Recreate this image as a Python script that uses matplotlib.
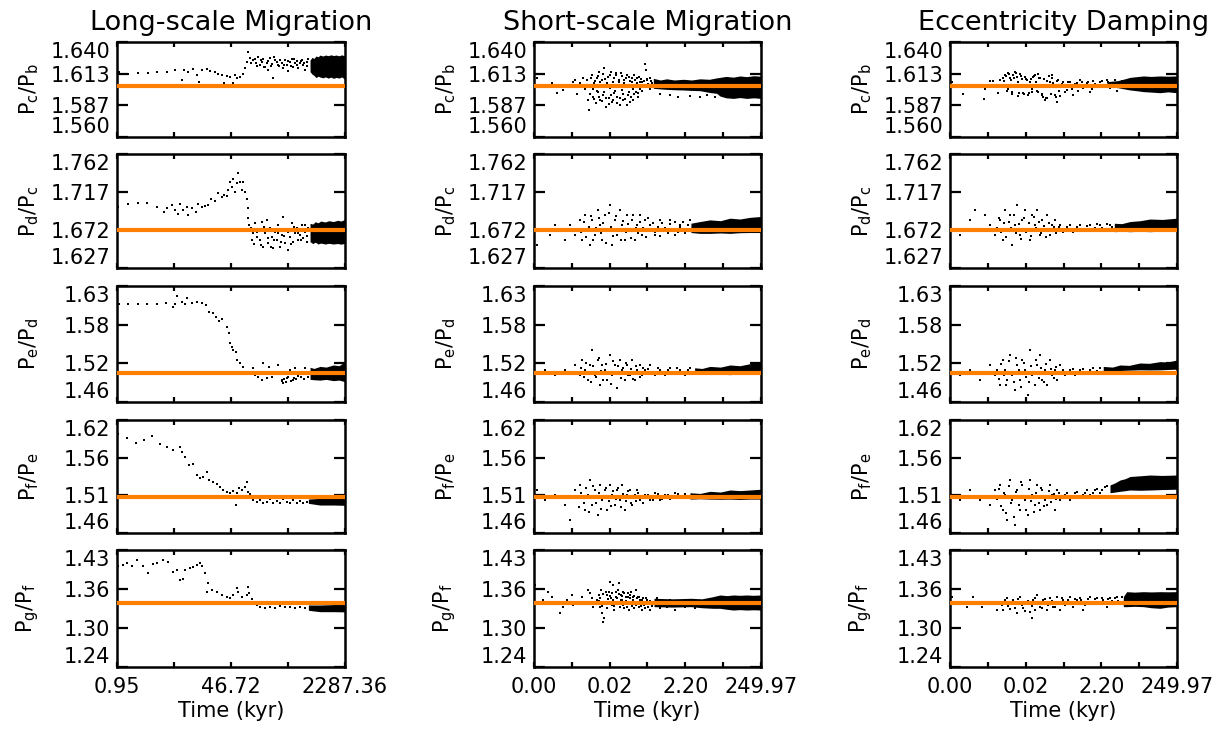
import matplotlib.pyplot as plt
import numpy as np

plt.rcParams['font.family'] = ['DejaVu Sans']
plt.rcParams['mathtext.fontset'] = 'dejavusans'

# ---------------------------------------------------------------- labels
titles = ['Long-scale Migration', 'Short-scale Migration', 'Eccentricity Damping']
ratio_names = [r'P$_{\rm c}$/P$_{\rm b}$', r'P$_{\rm d}$/P$_{\rm c}$', r'P$_{\rm e}$/P$_{\rm d}$',
               r'P$_{\rm f}$/P$_{\rm e}$', r'P$_{\rm g}$/P$_{\rm f}$']
observed = [1.603, 1.672, 1.506, 1.509, 1.342]   # orange reference lines

y_limits = [(1.560, 1.640), (1.627, 1.762), (1.463, 1.6325), (1.458, 1.618), (1.242, 1.4256)]
y_ticklabels = [['1.560', '1.587', '1.613', '1.640'],
                ['1.627', '1.672', '1.717', '1.762'],
                ['1.46', '1.52', '1.58', '1.63'],
                ['1.46', '1.51', '1.56', '1.62'],
                ['1.24', '1.30', '1.36', '1.43']]

long_time_limits = (0.95, 2287.36)
long_time_ticks = ['0.95', '46.72', '2287.36']
short_time_limits = (10 ** -3.75, 249.97)
short_time_ticks = ['0.00', '0.02', '2.20', '249.97']

# ---------------------------------------------------------------- data
# points: (log10 time [kyr], period ratio); bands: (log10 time, upper, lower)
long_cb = [(0.013, 1.6144), (0.146, 1.6130), (0.295, 1.6136), (0.443, 1.6142), (0.567, 1.6150),
           (0.715, 1.6150), (0.839, 1.6164), (0.937, 1.6080), (0.972, 1.6164), (1.036, 1.6150),
           (1.110, 1.6170), (1.160, 1.6122), (1.195, 1.6066), (1.234, 1.6164), (1.308, 1.6172),
           (1.358, 1.6158), (1.432, 1.6150), (1.481, 1.6130), (1.531, 1.6122), (1.565, 1.6057),
           (1.605, 1.6114), (1.654, 1.6102), (1.704, 1.6052), (1.728, 1.6122), (1.763, 1.6094),
           (1.803, 1.6108), (1.842, 1.6130), (1.877, 1.6178), (1.901, 1.6234), (1.926, 1.6318),
           (1.951, 1.6262), (1.960, 1.6220), (2.000, 1.6248), (2.020, 1.6260), (2.040, 1.6220),
           (2.060, 1.6200), (2.075, 1.6271), (2.099, 1.6206), (2.110, 1.6250), (2.124, 1.6234),
           (2.149, 1.6254), (2.160, 1.6190), (2.174, 1.6192), (2.198, 1.6226), (2.210, 1.6240),
           (2.223, 1.6164), (2.248, 1.6262), (2.260, 1.6200), (2.272, 1.6215), (2.287, 1.6094),
           (2.310, 1.6270), (2.322, 1.6248), (2.347, 1.6234), (2.360, 1.6210), (2.386, 1.6198),
           (2.400, 1.6250), (2.421, 1.6220), (2.445, 1.6178), (2.460, 1.6210), (2.470, 1.6248),
           (2.495, 1.6206), (2.510, 1.6240), (2.520, 1.6158), (2.544, 1.6231), (2.560, 1.6200),
           (2.569, 1.6254), (2.594, 1.6192), (2.610, 1.6260), (2.618, 1.6220), (2.643, 1.6240),
           (2.650, 1.6210), (2.668, 1.6178), (2.693, 1.6226), (2.700, 1.6240), (2.717, 1.6248),
           (2.742, 1.6206), (2.750, 1.6220), (2.767, 1.6164), (2.791, 1.6234), (2.800, 1.6200),
           (2.816, 1.6254)]
long_cb_band = [(2.841, 1.6248, 1.6150), (2.870, 1.6270, 1.6130), (2.900, 1.6262, 1.6118),
                (2.930, 1.6282, 1.6100), (2.960, 1.6275, 1.6112), (2.990, 1.6290, 1.6105),
                (3.030, 1.6282, 1.6098), (3.070, 1.6290, 1.6106), (3.110, 1.6285, 1.6096),
                (3.150, 1.6292, 1.6104), (3.190, 1.6286, 1.6094), (3.230, 1.6290, 1.6102),
                (3.270, 1.6284, 1.6096), (3.310, 1.6292, 1.6106), (3.359, 1.6282, 1.6085)]

long_dc = [(-0.002, 1.6996), (0.146, 1.7024), (0.295, 1.7036), (0.418, 1.7036), (0.567, 1.6996),
           (0.675, 1.6937), (0.715, 1.6976), (0.789, 1.7016), (0.839, 1.6957), (0.888, 1.6909),
           (0.913, 1.7028), (0.962, 1.6957), (1.012, 1.6996), (1.036, 1.6897), (1.086, 1.6976),
           (1.150, 1.6937), (1.185, 1.7028), (1.234, 1.6996), (1.283, 1.7008), (1.333, 1.7016),
           (1.368, 1.7083), (1.432, 1.7063), (1.481, 1.7162), (1.531, 1.7107), (1.565, 1.7134),
           (1.605, 1.7122), (1.630, 1.7193), (1.654, 1.7292), (1.679, 1.7233), (1.704, 1.7320),
           (1.728, 1.7174), (1.753, 1.7280), (1.778, 1.7399), (1.803, 1.7292), (1.827, 1.7193),
           (1.852, 1.7292), (1.877, 1.7174), (1.901, 1.7083), (1.916, 1.6976), (1.926, 1.6858),
           (1.941, 1.6779), (1.961, 1.6740), (1.975, 1.6600), (1.990, 1.6680), (2.010, 1.6560),
           (2.025, 1.6799), (2.050, 1.6641), (2.060, 1.6700), (2.075, 1.6720), (2.099, 1.6601),
           (2.110, 1.6540), (2.124, 1.6818), (2.149, 1.6522), (2.160, 1.6760), (2.174, 1.6680),
           (2.198, 1.6838), (2.210, 1.6620), (2.223, 1.6562), (2.248, 1.6740), (2.260, 1.6520),
           (2.272, 1.6641), (2.297, 1.6503), (2.310, 1.6600), (2.322, 1.6700), (2.347, 1.6601),
           (2.360, 1.6680), (2.371, 1.6779), (2.396, 1.6522), (2.410, 1.6580), (2.421, 1.6661),
           (2.445, 1.6878), (2.460, 1.6650), (2.470, 1.6562), (2.495, 1.6720), (2.510, 1.6700),
           (2.520, 1.6483), (2.544, 1.6641), (2.560, 1.6560), (2.569, 1.6799), (2.594, 1.6582),
           (2.610, 1.6760), (2.618, 1.6680), (2.643, 1.6740), (2.660, 1.6680), (2.668, 1.6601),
           (2.693, 1.6661), (2.710, 1.6600), (2.717, 1.6779), (2.742, 1.6621), (2.760, 1.6780),
           (2.767, 1.6700), (2.791, 1.6582), (2.800, 1.6650), (2.816, 1.6740)]
long_dc_band = [(2.841, 1.6799, 1.6582), (2.880, 1.6790, 1.6560), (2.920, 1.6818, 1.6575),
                (2.960, 1.6805, 1.6554), (3.000, 1.6826, 1.6565), (3.064, 1.6815, 1.6554),
                (3.120, 1.6830, 1.6562), (3.187, 1.6820, 1.6554), (3.250, 1.6835, 1.6560),
                (3.300, 1.6826, 1.6552), (3.359, 1.6846, 1.6562)]

long_ed = [(0.013, 1.6062), (0.146, 1.6062), (0.295, 1.6062), (0.418, 1.6062), (0.567, 1.6062),
           (0.700, 1.6081), (0.814, 1.6013), (0.839, 1.6062), (0.873, 1.6179), (0.937, 1.6096),
           (0.987, 1.6062), (1.022, 1.6145), (1.086, 1.6071), (1.160, 1.6096), (1.234, 1.6081),
           (1.298, 1.6047), (1.348, 1.5950), (1.407, 1.5925), (1.447, 1.5877), (1.496, 1.5818),
           (1.531, 1.5838), (1.615, 1.5731), (1.634, 1.5633), (1.654, 1.5487), (1.679, 1.5438),
           (1.704, 1.5390), (1.743, 1.5365), (1.763, 1.5244), (1.803, 1.5195), (1.852, 1.5136),
           (1.901, 1.5073), (1.951, 1.5039), (2.000, 1.5122), (2.025, 1.5025), (2.075, 1.5000),
           (2.124, 1.4952), (2.149, 1.5205), (2.198, 1.4976), (2.238, 1.5146), (2.272, 1.5000),
           (2.322, 1.5059), (2.371, 1.5171), (2.421, 1.4952), (2.430, 1.4930), (2.445, 1.4903),
           (2.460, 1.4960), (2.470, 1.5039), (2.480, 1.4920), (2.505, 1.4976), (2.520, 1.4990),
           (2.544, 1.5097), (2.560, 1.4940), (2.584, 1.4952), (2.600, 1.4980), (2.618, 1.5122),
           (2.640, 1.4970), (2.668, 1.5010), (2.700, 1.4990), (2.717, 1.5049), (2.750, 1.4960),
           (2.767, 1.5122), (2.790, 1.5060), (2.816, 1.5000)]
long_ed_band = [(2.841, 1.5137, 1.4961), (2.900, 1.5120, 1.4955), (2.989, 1.5150, 1.4950),
                (3.080, 1.5140, 1.4960), (3.187, 1.5171, 1.4942), (3.270, 1.5160, 1.4950),
                (3.359, 1.5219, 1.4927)]

long_fe = [(-0.002, 1.5982), (0.122, 1.5920), (0.260, 1.5850), (0.379, 1.5897), (0.493, 1.5953),
           (0.616, 1.5840), (0.715, 1.5802), (0.814, 1.5755), (0.913, 1.5802), (0.937, 1.5732),
           (0.987, 1.5651), (1.051, 1.5543), (1.101, 1.5557), (1.160, 1.5401), (1.209, 1.5354),
           (1.259, 1.5378), (1.308, 1.5448), (1.348, 1.5330), (1.407, 1.5307), (1.457, 1.5274),
           (1.506, 1.5227), (1.555, 1.5189), (1.605, 1.5165), (1.654, 1.5151), (1.704, 1.5179),
           (1.743, 1.4976), (1.763, 1.5142), (1.793, 1.5212), (1.827, 1.5189), (1.877, 1.5236),
           (1.911, 1.5307), (1.926, 1.5165), (1.951, 1.5132), (2.000, 1.5047), (2.050, 1.5024),
           (2.099, 1.5047), (2.149, 1.5000), (2.198, 1.5024), (2.248, 1.5057), (2.297, 1.5010),
           (2.347, 1.5038), (2.396, 1.5000), (2.445, 1.5057), (2.495, 1.5024), (2.544, 1.5000),
           (2.594, 1.5047), (2.643, 1.5010), (2.693, 1.5038), (2.742, 1.5000), (2.791, 1.5024)]
long_fe_band = [(2.816, 1.5061, 1.5000), (2.989, 1.5071, 1.4976), (3.187, 1.5071, 1.4976),
                (3.359, 1.5080, 1.4972)]

long_gf = [(-0.002, 1.4000), (0.072, 1.4021), (0.132, 1.4047), (0.196, 1.4000), (0.270, 1.4098),
           (0.359, 1.4000), (0.443, 1.3890), (0.517, 1.4036), (0.567, 1.4047), (0.656, 1.4098),
           (0.740, 1.4072), (0.814, 1.3916), (0.863, 1.3942), (0.913, 1.3785), (0.952, 1.3795),
           (0.987, 1.3942), (1.061, 1.3968), (1.110, 1.3994), (1.160, 1.4021), (1.209, 1.4047),
           (1.244, 1.4000), (1.283, 1.3890), (1.308, 1.3602), (1.333, 1.3733), (1.382, 1.3628),
           (1.457, 1.3602), (1.531, 1.3550), (1.605, 1.3524), (1.654, 1.3498), (1.704, 1.3550),
           (1.753, 1.3654), (1.778, 1.3602), (1.827, 1.3524), (1.877, 1.3445), (1.911, 1.3550),
           (1.926, 1.3681), (1.941, 1.3576), (1.976, 1.3482), (2.000, 1.3419), (2.050, 1.3393),
           (2.099, 1.3367), (2.174, 1.3341), (2.248, 1.3367), (2.322, 1.3341), (2.396, 1.3377),
           (2.470, 1.3356), (2.544, 1.3367), (2.618, 1.3341), (2.693, 1.3356), (2.767, 1.3341)]
long_gf_band = [(2.816, 1.3393, 1.3310), (2.989, 1.3393, 1.3288), (3.187, 1.3400, 1.3288),
                (3.359, 1.3410, 1.3285)]

short_cb = [(-3.678, 1.6094), (-3.272, 1.6052), (-3.136, 1.5973), (-2.956, 1.5996), (-2.866, 1.6018),
            (-2.703, 1.6066), (-2.640, 1.6080), (-2.595, 1.5962), (-2.504, 1.6052), (-2.432, 1.6094),
            (-2.369, 1.6001), (-2.306, 1.6080), (-2.279, 1.5911), (-2.252, 1.5827), (-2.216, 1.6018),
            (-2.189, 1.6122), (-2.143, 1.5939), (-2.116, 1.6052), (-2.080, 1.5883), (-2.053, 1.6094),
            (-2.026, 1.5982), (-1.990, 1.6150), (-1.963, 1.5911), (-1.936, 1.6038), (-1.900, 1.6080),
            (-1.872, 1.5954), (-1.845, 1.6178), (-1.809, 1.5855), (-1.782, 1.6052), (-1.755, 1.6108),
            (-1.719, 1.5925), (-1.692, 1.6010), (-1.665, 1.6150), (-1.629, 1.5897), (-1.602, 1.6066),
            (-1.575, 1.5968), (-1.539, 1.6122), (-1.511, 1.5883), (-1.484, 1.6038), (-1.448, 1.6080),
            (-1.421, 1.5925), (-1.394, 1.6136), (-1.358, 1.5996), (-1.331, 1.5911), (-1.304, 1.6052),
            (-1.268, 1.6094), (-1.241, 1.5869), (-1.214, 1.5954), (-1.178, 1.6108), (-1.150, 1.5897),
            (-1.123, 1.6024), (-1.087, 1.6066), (-1.060, 1.5911), (-1.033, 1.6122), (-0.997, 1.5982),
            (-0.970, 1.6052), (-0.943, 1.5939), (-0.907, 1.6108), (-0.880, 1.6001), (-0.834, 1.6066),
            (-0.789, 1.6038), (-0.744, 1.6215), (-0.717, 1.6164), (-0.681, 1.6080), (-0.645, 1.6018),
            (-0.609, 1.6094), (-0.564, 1.6052), (-0.338, 1.5962), (-0.067, 1.5954), (0.158, 1.5939),
            (0.474, 1.5945), (0.745, 1.5939), (0.926, 1.5954), (1.151, 1.5934),
            (-2.290, 1.6040), (-2.240, 1.5960), (-2.200, 1.6100), (-2.160, 1.6000), (-2.120, 1.5920),
            (-2.090, 1.6070), (-2.050, 1.5990), (-2.010, 1.6110), (-1.980, 1.5940), (-1.950, 1.6060),
            (-1.920, 1.5900), (-1.880, 1.6130), (-1.850, 1.5980), (-1.820, 1.6090), (-1.790, 1.5930),
            (-1.760, 1.6030), (-1.730, 1.5880), (-1.700, 1.6120), (-1.670, 1.5950), (-1.640, 1.6040),
            (-1.610, 1.5910), (-1.580, 1.6100), (-1.550, 1.5990), (-1.520, 1.6140), (-1.490, 1.5940),
            (-1.460, 1.6060), (-1.430, 1.5870), (-1.400, 1.6020), (-1.370, 1.6110), (-1.340, 1.5960),
            (-1.310, 1.6080), (-1.280, 1.5920), (-1.250, 1.6040), (-1.220, 1.6120), (-1.190, 1.5980),
            (-1.160, 1.6070), (-1.130, 1.5940), (-1.100, 1.6100), (-1.070, 1.6000), (-1.040, 1.5960),
            (-1.010, 1.6080), (-0.980, 1.6030), (-0.950, 1.6100), (-0.920, 1.5970), (-0.890, 1.6060),
            (-0.860, 1.6090), (-0.820, 1.5990), (-0.780, 1.6070), (-0.750, 1.6030), (-0.700, 1.6090),
            (-0.660, 1.6050), (-0.620, 1.6000), (-0.580, 1.6070)]
short_cb_band = [(-0.518, 1.6094, 1.6010), (-0.330, 1.6080, 1.6005), (-0.157, 1.6090, 1.6001),
                 (0.050, 1.6080, 1.5998), (0.294, 1.6086, 1.5996), (0.520, 1.6080, 1.5992),
                 (0.745, 1.6090, 1.5990), (1.000, 1.6086, 1.5975), (1.197, 1.6098, 1.5968),
                 (1.287, 1.6102, 1.5945), (1.450, 1.6110, 1.5930), (1.648, 1.6104, 1.5925),
                 (1.830, 1.6114, 1.5932), (2.009, 1.6108, 1.5925), (2.200, 1.6116, 1.5930),
                 (2.397, 1.6112, 1.5925)]

short_dc = [(-3.669, 1.6542), (-3.452, 1.6720), (-3.317, 1.6661), (-3.181, 1.6779), (-3.046, 1.6720),
            (-2.911, 1.6602), (-2.775, 1.6779), (-2.640, 1.6661), (-2.504, 1.6838), (-2.437, 1.6602),
            (-2.369, 1.6898), (-2.301, 1.6720), (-2.234, 1.6542), (-2.166, 1.6838), (-2.098, 1.6661),
            (-2.030, 1.6957), (-1.963, 1.6779), (-1.895, 1.6602), (-1.827, 1.6898), (-1.760, 1.6720),
            (-1.692, 1.7016), (-1.624, 1.6542), (-1.557, 1.6838), (-1.489, 1.6661), (-1.421, 1.6957),
            (-1.354, 1.6779), (-1.286, 1.6602), (-1.218, 1.6898), (-1.150, 1.6720), (-1.083, 1.6838),
            (-1.015, 1.6602), (-0.947, 1.6779), (-0.880, 1.6898), (-0.812, 1.6661), (-0.744, 1.6838),
            (-0.677, 1.6720), (-0.609, 1.6779), (-0.474, 1.6661), (-0.338, 1.6838), (-0.203, 1.6720),
            (-0.067, 1.6838), (0.068, 1.6661), (0.204, 1.6779), (0.339, 1.6720), (0.474, 1.6838),
            (-2.470, 1.6700), (-2.400, 1.6810), (-2.330, 1.6640), (-2.270, 1.6760), (-2.200, 1.6880),
            (-2.140, 1.6600), (-2.070, 1.6740), (-2.000, 1.6860), (-1.930, 1.6680), (-1.870, 1.6800),
            (-1.800, 1.6570), (-1.730, 1.6920), (-1.670, 1.6760), (-1.600, 1.6650), (-1.530, 1.6880),
            (-1.470, 1.6720), (-1.400, 1.6600), (-1.330, 1.6830), (-1.270, 1.6700), (-1.200, 1.6790),
            (-1.130, 1.6620), (-1.070, 1.6900), (-1.000, 1.6740), (-0.930, 1.6680), (-0.870, 1.6820),
            (-0.800, 1.6740), (-0.730, 1.6640), (-0.670, 1.6860), (-0.600, 1.6720), (-0.530, 1.6800),
            (-0.470, 1.6700), (-0.400, 1.6760), (-0.330, 1.6650), (-0.270, 1.6800), (-0.200, 1.6740),
            (-0.130, 1.6690), (-0.070, 1.6790), (0.000, 1.6730), (0.070, 1.6820), (0.140, 1.6700),
            (0.210, 1.6760), (0.280, 1.6810), (0.350, 1.6690), (0.420, 1.6780)]
short_dc_band = [(0.500, 1.6800, 1.6690), (0.745, 1.6820, 1.6680), (1.016, 1.6840, 1.6680),
                 (1.300, 1.6830, 1.6685), (1.558, 1.6860, 1.6680), (1.830, 1.6850, 1.6688),
                 (2.099, 1.6870, 1.6690), (2.397, 1.6880, 1.6690)]

short_ed = [(-3.669, 1.5060), (-3.452, 1.5098), (-3.181, 1.5024), (-2.911, 1.5098), (-2.640, 1.5171),
            (-2.504, 1.5024), (-2.437, 1.5244), (-2.369, 1.5098), (-2.301, 1.4951), (-2.234, 1.5171),
            (-2.166, 1.5390), (-2.098, 1.5024), (-2.030, 1.5244), (-1.963, 1.4878), (-1.895, 1.5171),
            (-1.827, 1.5098), (-1.760, 1.4951), (-1.692, 1.5317), (-1.624, 1.5024), (-1.557, 1.5171),
            (-1.489, 1.4835), (-1.421, 1.5244), (-1.354, 1.5098), (-1.286, 1.4951), (-1.218, 1.5171),
            (-1.150, 1.5024), (-1.083, 1.5244), (-1.015, 1.4951), (-0.947, 1.5098), (-0.880, 1.5171),
            (-0.812, 1.5024), (-0.744, 1.5098), (-0.609, 1.5171), (-0.474, 1.5024), (-0.338, 1.5098),
            (-0.203, 1.5024), (-0.067, 1.5130), (0.068, 1.5060), (0.204, 1.5098), (0.339, 1.5024),
            (0.474, 1.5130),
            (-2.470, 1.5130), (-2.400, 1.4990), (-2.330, 1.5200), (-2.270, 1.5060), (-2.200, 1.4920),
            (-2.140, 1.5150), (-2.070, 1.5000), (-2.000, 1.5280), (-1.930, 1.5090), (-1.870, 1.4950),
            (-1.800, 1.5180), (-1.730, 1.5040), (-1.670, 1.4900), (-1.600, 1.5230), (-1.530, 1.5070),
            (-1.470, 1.5150), (-1.400, 1.4980), (-1.330, 1.5120), (-1.270, 1.5200), (-1.200, 1.5030),
            (-1.130, 1.5110), (-1.070, 1.4970), (-1.000, 1.5160), (-0.930, 1.5060), (-0.870, 1.5000),
            (-0.800, 1.5130), (-0.730, 1.5060), (-0.670, 1.5110), (-0.550, 1.5040), (-0.400, 1.5120),
            (-0.270, 1.5060), (-0.130, 1.5100), (0.000, 1.5050), (0.130, 1.5120), (0.270, 1.5060),
            (0.410, 1.5100)]
short_ed_band = [(0.600, 1.5130, 1.5040), (0.800, 1.5120, 1.5045), (1.016, 1.5150, 1.5040),
                 (1.300, 1.5140, 1.5035), (1.558, 1.5171, 1.5030), (1.830, 1.5160, 1.5040),
                 (2.099, 1.5190, 1.5040), (2.397, 1.5210, 1.5040)]

short_fe = [(-3.669, 1.5189), (-3.452, 1.5047), (-3.181, 1.5118), (-2.911, 1.4976), (-2.775, 1.4764),
            (-2.640, 1.5189), (-2.504, 1.5260), (-2.369, 1.4906), (-2.301, 1.5118), (-2.234, 1.5330),
            (-2.166, 1.4976), (-2.098, 1.5189), (-2.030, 1.4835), (-1.963, 1.5260), (-1.895, 1.5047),
            (-1.827, 1.5189), (-1.760, 1.4906), (-1.692, 1.5260), (-1.624, 1.5118), (-1.557, 1.4976),
            (-1.489, 1.5189), (-1.421, 1.5047), (-1.354, 1.5260), (-1.286, 1.4906), (-1.218, 1.5118),
            (-1.150, 1.5189), (-1.083, 1.4976), (-1.015, 1.5118), (-0.947, 1.5189), (-0.880, 1.5047),
            (-0.744, 1.5118), (-0.609, 1.5047), (-0.474, 1.5150), (-0.338, 1.5047), (-0.203, 1.5118),
            (-0.067, 1.5060), (0.068, 1.5150), (0.204, 1.5080), (0.339, 1.5130),
            (-2.600, 1.5080), (-2.530, 1.4950), (-2.470, 1.5150), (-2.400, 1.5010), (-2.330, 1.5220),
            (-2.270, 1.4880), (-2.200, 1.5100), (-2.140, 1.5240), (-2.070, 1.5000), (-2.000, 1.5150),
            (-1.930, 1.4920), (-1.870, 1.5080), (-1.800, 1.5220), (-1.730, 1.5030), (-1.670, 1.4960),
            (-1.600, 1.5170), (-1.530, 1.5060), (-1.470, 1.5220), (-1.400, 1.4950), (-1.330, 1.5130),
            (-1.270, 1.5040), (-1.200, 1.5180), (-1.130, 1.5010), (-1.070, 1.5100), (-1.000, 1.5030),
            (-0.930, 1.5150), (-0.870, 1.5080), (-0.800, 1.5000), (-0.670, 1.5120), (-0.540, 1.5050),
            (-0.400, 1.5130), (-0.270, 1.5060), (-0.130, 1.5120), (0.000, 1.5080), (0.140, 1.5130),
            (0.270, 1.5090)]
short_fe_band = [(0.474, 1.5150, 1.5060), (0.750, 1.5140, 1.5065), (1.016, 1.5170, 1.5060),
                 (1.300, 1.5160, 1.5058), (1.558, 1.5189, 1.5060), (1.830, 1.5180, 1.5055),
                 (2.099, 1.5189, 1.5060), (2.397, 1.5200, 1.5060)]

short_gf = [(-3.723, 1.3707), (-3.497, 1.3471), (-3.362, 1.3602), (-3.272, 1.3524), (-3.136, 1.3419),
            (-3.046, 1.3262), (-2.956, 1.3367), (-2.866, 1.3471), (-2.730, 1.3550), (-2.685, 1.3393),
            (-2.595, 1.3445), (-2.459, 1.3524), (-2.369, 1.3419), (-2.279, 1.3628), (-2.234, 1.3576),
            (-2.189, 1.3498), (-2.143, 1.3367), (-2.053, 1.3471), (-2.000, 1.3550), (-1.963, 1.3367),
            (-1.936, 1.3628), (-1.900, 1.3262), (-1.872, 1.3131), (-1.845, 1.3184), (-1.809, 1.3445),
            (-1.782, 1.3550), (-1.755, 1.3419), (-1.719, 1.3602), (-1.692, 1.3759), (-1.665, 1.3498),
            (-1.629, 1.3393), (-1.602, 1.3707), (-1.575, 1.3314), (-1.539, 1.3524), (-1.511, 1.3445),
            (-1.484, 1.3628), (-1.448, 1.3731), (-1.421, 1.3367), (-1.394, 1.3550), (-1.358, 1.3471),
            (-1.331, 1.3602), (-1.304, 1.3341), (-1.268, 1.3524), (-1.241, 1.3419), (-1.214, 1.3576),
            (-1.178, 1.3314), (-1.150, 1.3498), (-1.123, 1.3602), (-1.087, 1.3393), (-1.060, 1.3524),
            (-1.033, 1.3341), (-0.997, 1.3628), (-0.970, 1.3445), (-0.943, 1.3524), (-0.907, 1.3367),
            (-0.880, 1.3471), (-0.834, 1.3314), (-0.789, 1.3498), (-0.744, 1.3341), (-0.681, 1.3471),
            (-0.609, 1.3314), (-0.518, 1.3419), (-0.428, 1.3498), (-0.338, 1.3341), (-0.247, 1.3445),
            (-0.157, 1.3367), (-0.067, 1.3471), (0.068, 1.3314), (0.204, 1.3419), (0.339, 1.3367),
            (0.474, 1.3445), (0.610, 1.3341), (0.745, 1.3419), (0.881, 1.3367), (1.016, 1.3471),
            (-1.980, 1.3450), (-1.950, 1.3500), (-1.910, 1.3380), (-1.880, 1.3560), (-1.840, 1.3420),
            (-1.800, 1.3600), (-1.770, 1.3350), (-1.740, 1.3480), (-1.700, 1.3540), (-1.670, 1.3420),
            (-1.640, 1.3580), (-1.600, 1.3470), (-1.570, 1.3380), (-1.540, 1.3600), (-1.500, 1.3500),
            (-1.470, 1.3410), (-1.440, 1.3560), (-1.400, 1.3470), (-1.370, 1.3530), (-1.340, 1.3400),
            (-1.300, 1.3580), (-1.270, 1.3450), (-1.240, 1.3360), (-1.200, 1.3520), (-1.170, 1.3440),
            (-1.140, 1.3550), (-1.100, 1.3380), (-1.070, 1.3470), (-1.040, 1.3530), (-1.000, 1.3400),
            (-0.970, 1.3500), (-0.930, 1.3430), (-0.900, 1.3520), (-0.860, 1.3380), (-0.820, 1.3470),
            (-0.780, 1.3400), (-0.720, 1.3500), (-0.660, 1.3360), (-0.620, 1.3450), (-0.560, 1.3380)]
short_gf_band = [(-0.500, 1.3498, 1.3367), (0.000, 1.3490, 1.3360), (0.500, 1.3498, 1.3367),
                 (0.800, 1.3490, 1.3350), (1.100, 1.3524, 1.3341), (1.287, 1.3550, 1.3341),
                 (1.480, 1.3540, 1.3325), (1.648, 1.3550, 1.3314), (1.830, 1.3545, 1.3320),
                 (2.009, 1.3550, 1.3314), (2.200, 1.3545, 1.3318), (2.397, 1.3550, 1.3314)]

ecc_cb = [(-3.705, 1.6066), (-3.407, 1.5962), (-3.299, 1.6038), (-3.118, 1.6029), (-3.028, 1.6018),
          (-2.829, 1.5917), (-2.802, 1.6001), (-2.667, 1.6071), (-2.594, 1.6074), (-2.441, 1.5973),
          (-2.396, 1.6080), (-2.305, 1.6094), (-2.260, 1.6122), (-2.215, 1.5990), (-2.170, 1.6136),
          (-2.125, 1.6094), (-2.080, 1.5962), (-2.035, 1.6122), (-1.989, 1.6150), (-1.944, 1.6108),
          (-1.899, 1.5945), (-1.854, 1.6130), (-1.809, 1.6086), (-1.764, 1.5973), (-1.719, 1.6102),
          (-1.673, 1.6080), (-1.628, 1.5954), (-1.583, 1.6066), (-1.538, 1.5982), (-1.493, 1.6108),
          (-1.448, 1.6122), (-1.403, 1.5990), (-1.358, 1.6130), (-1.312, 1.6094), (-1.267, 1.5962),
          (-1.222, 1.5934), (-1.177, 1.5911), (-1.132, 1.5925), (-1.087, 1.6018), (-1.042, 1.6066),
          (-0.997, 1.6122), (-0.951, 1.6052), (-0.906, 1.5954), (-0.861, 1.5897), (-0.816, 1.6080),
          (-0.771, 1.5945), (-0.680, 1.6066), (-0.590, 1.5996), (-0.500, 1.6066), (-0.410, 1.5954),
          (-0.319, 1.6052), (-0.229, 1.6080), (-0.139, 1.6010), (-0.049, 1.6052), (0.042, 1.5982),
          (0.132, 1.6074), (0.222, 1.6018), (0.313, 1.6066), (0.403, 1.6038), (0.493, 1.6080),
          (0.583, 1.6010), (0.674, 1.6057), (0.764, 1.5990), (0.854, 1.6066), (0.944, 1.6018),
          (-2.280, 1.6070), (-2.240, 1.6110), (-2.190, 1.6000), (-2.150, 1.6130), (-2.100, 1.6080),
          (-2.060, 1.5980), (-2.010, 1.6100), (-1.970, 1.6140), (-1.920, 1.6060), (-1.880, 1.5970),
          (-1.830, 1.6110), (-1.790, 1.6040), (-1.740, 1.5960), (-1.700, 1.6090), (-1.650, 1.6030),
          (-1.610, 1.5970), (-1.560, 1.6090), (-1.520, 1.6000), (-1.470, 1.6110), (-1.430, 1.6060),
          (-1.380, 1.5980), (-1.340, 1.6100), (-1.290, 1.6040), (-1.250, 1.5950), (-1.200, 1.6090),
          (-1.160, 1.5930), (-1.110, 1.6070), (-1.070, 1.6110), (-1.020, 1.5960), (-0.980, 1.6100),
          (-0.930, 1.6040), (-0.890, 1.5940), (-0.840, 1.6070), (-0.800, 1.5990), (-0.720, 1.6050),
          (-0.630, 1.5980), (-0.550, 1.6060), (-0.450, 1.6000), (-0.360, 1.6050), (-0.270, 1.5990),
          (-0.180, 1.6060), (-0.090, 1.6030), (0.000, 1.6060), (0.090, 1.6000), (0.180, 1.6050),
          (0.270, 1.6030), (0.360, 1.6070), (0.450, 1.6020), (0.540, 1.6060), (0.630, 1.6030),
          (0.720, 1.6080), (0.810, 1.6020), (0.900, 1.6070)]
ecc_cb_band = [(0.500, 1.6066, 1.6024), (0.800, 1.6075, 1.6015), (1.035, 1.6094, 1.6001),
               (1.125, 1.6102, 1.5996), (1.300, 1.6108, 1.5990), (1.486, 1.6114, 1.5982),
               (1.700, 1.6110, 1.5978), (1.937, 1.6114, 1.5973), (2.150, 1.6112, 1.5980),
               (2.389, 1.6114, 1.5973)]

ecc_dc = [(-3.669, 1.6720), (-3.479, 1.6661), (-3.208, 1.6838), (-3.073, 1.6957), (-2.938, 1.6720),
          (-2.802, 1.6898), (-2.667, 1.6779), (-2.531, 1.6661), (-2.396, 1.6838), (-2.328, 1.6602),
          (-2.261, 1.6957), (-2.193, 1.6720), (-2.125, 1.6898), (-2.058, 1.6542), (-1.990, 1.6779),
          (-1.922, 1.7016), (-1.854, 1.6661), (-1.787, 1.6838), (-1.719, 1.6957), (-1.651, 1.6720),
          (-1.584, 1.6602), (-1.516, 1.6898), (-1.448, 1.6779), (-1.381, 1.6957), (-1.313, 1.6661),
          (-1.245, 1.6838), (-1.177, 1.6720), (-1.110, 1.6898), (-1.042, 1.6661), (-0.975, 1.6779),
          (-0.907, 1.6838), (-0.839, 1.6720), (-0.771, 1.6779), (-0.636, 1.6720), (-0.500, 1.6779),
          (-0.365, 1.6720), (-0.230, 1.6779), (-0.094, 1.6720), (0.041, 1.6779), (0.177, 1.6740),
          (0.312, 1.6779), (0.448, 1.6720), (0.583, 1.6779),
          (-2.470, 1.6740), (-2.430, 1.6860), (-2.360, 1.6700), (-2.300, 1.6800), (-2.230, 1.6640),
          (-2.160, 1.6820), (-2.090, 1.6740), (-2.020, 1.6900), (-1.960, 1.6680), (-1.890, 1.6790),
          (-1.820, 1.6610), (-1.750, 1.6860), (-1.690, 1.6700), (-1.620, 1.6800), (-1.550, 1.6650),
          (-1.480, 1.6870), (-1.420, 1.6740), (-1.350, 1.6820), (-1.280, 1.6690), (-1.210, 1.6770),
          (-1.140, 1.6640), (-1.080, 1.6800), (-1.010, 1.6720), (-0.940, 1.6760), (-0.870, 1.6680),
          (-0.800, 1.6760), (-0.700, 1.6700), (-0.570, 1.6760), (-0.430, 1.6700), (-0.300, 1.6760),
          (-0.160, 1.6720), (-0.030, 1.6770), (0.110, 1.6730), (0.240, 1.6790), (0.380, 1.6740),
          (0.510, 1.6790), (0.650, 1.6750)]
ecc_dc_band = [(0.700, 1.6800, 1.6700), (0.900, 1.6795, 1.6705), (1.124, 1.6820, 1.6700),
               (1.400, 1.6830, 1.6705), (1.666, 1.6850, 1.6700), (2.000, 1.6845, 1.6708),
               (2.397, 1.6860, 1.6710)]

ecc_ed = [(-3.669, 1.5060), (-3.479, 1.5024), (-3.208, 1.5098), (-2.938, 1.4951), (-2.667, 1.5171),
          (-2.531, 1.5024), (-2.396, 1.4878), (-2.328, 1.5244), (-2.261, 1.5098), (-2.193, 1.4951),
          (-2.125, 1.5317), (-2.058, 1.5024), (-1.990, 1.4805), (-1.922, 1.5171), (-1.854, 1.4951),
          (-1.787, 1.5244), (-1.719, 1.5098), (-1.651, 1.4732), (-1.584, 1.5390), (-1.516, 1.5024),
          (-1.448, 1.4878), (-1.381, 1.5171), (-1.313, 1.5317), (-1.245, 1.4951), (-1.177, 1.5098),
          (-1.110, 1.4878), (-1.042, 1.5244), (-0.975, 1.5024), (-0.907, 1.5098), (-0.839, 1.4951),
          (-0.771, 1.5171), (-0.636, 1.5024), (-0.500, 1.5098), (-0.365, 1.5024), (-0.230, 1.5098),
          (-0.094, 1.5060), (0.041, 1.5098), (0.177, 1.5060), (0.312, 1.5130),
          (-2.470, 1.5100), (-2.430, 1.4960), (-2.360, 1.5180), (-2.300, 1.5020), (-2.230, 1.4880),
          (-2.160, 1.5230), (-2.090, 1.5060), (-2.020, 1.4920), (-1.960, 1.5280), (-1.890, 1.5100),
          (-1.820, 1.4850), (-1.750, 1.5200), (-1.690, 1.5000), (-1.620, 1.4920), (-1.550, 1.5160),
          (-1.480, 1.5060), (-1.420, 1.5240), (-1.350, 1.4980), (-1.280, 1.5120), (-1.210, 1.4920),
          (-1.140, 1.5180), (-1.080, 1.5040), (-1.010, 1.5110), (-0.940, 1.4980), (-0.870, 1.5140),
          (-0.800, 1.5040), (-0.700, 1.5100), (-0.570, 1.5040), (-0.430, 1.5110), (-0.300, 1.5060),
          (-0.160, 1.5110), (-0.030, 1.5070), (0.110, 1.5120), (0.240, 1.5080)]
ecc_ed_band = [(0.400, 1.5150, 1.5080), (0.650, 1.5140, 1.5085), (0.854, 1.5171, 1.5090),
               (1.100, 1.5165, 1.5095), (1.395, 1.5200, 1.5100), (1.650, 1.5195, 1.5098),
               (1.937, 1.5220, 1.5100), (2.150, 1.5215, 1.5105), (2.397, 1.5244, 1.5110)]

ecc_fe = [(-3.669, 1.5118), (-3.479, 1.5047), (-3.208, 1.5189), (-2.938, 1.5047), (-2.667, 1.4976),
          (-2.531, 1.5189), (-2.396, 1.5260), (-2.328, 1.4906), (-2.261, 1.5118), (-2.193, 1.4764),
          (-2.125, 1.5330), (-2.058, 1.5047), (-1.990, 1.4693), (-1.922, 1.5189), (-1.854, 1.4906),
          (-1.787, 1.5260), (-1.719, 1.5047), (-1.651, 1.4835), (-1.584, 1.5330), (-1.516, 1.5118),
          (-1.448, 1.4976), (-1.381, 1.5260), (-1.313, 1.4906), (-1.245, 1.5189), (-1.177, 1.5047),
          (-1.110, 1.4976), (-1.042, 1.5260), (-0.975, 1.5118), (-0.907, 1.4906), (-0.839, 1.5189),
          (-0.771, 1.5047), (-0.636, 1.5118), (-0.500, 1.5047), (-0.365, 1.5150), (-0.230, 1.5080),
          (-0.094, 1.5150), (0.041, 1.5118), (0.177, 1.5189), (0.312, 1.5150), (0.448, 1.5230),
          (-2.470, 1.5060), (-2.430, 1.5200), (-2.360, 1.4960), (-2.300, 1.5140), (-2.230, 1.4860),
          (-2.160, 1.5250), (-2.090, 1.5000), (-2.020, 1.4800), (-1.960, 1.5160), (-1.890, 1.4980),
          (-1.820, 1.5300), (-1.750, 1.5080), (-1.690, 1.4900), (-1.620, 1.5200), (-1.550, 1.5040),
          (-1.480, 1.4880), (-1.420, 1.5150), (-1.350, 1.5000), (-1.280, 1.5220), (-1.210, 1.4960),
          (-1.140, 1.5100), (-1.080, 1.5180), (-1.010, 1.5020), (-0.940, 1.5130), (-0.870, 1.5060),
          (-0.800, 1.5150), (-0.700, 1.5080), (-0.570, 1.5140), (-0.430, 1.5100), (-0.300, 1.5160),
          (-0.160, 1.5120), (-0.030, 1.5190), (0.110, 1.5150), (0.240, 1.5210), (0.380, 1.5190),
          (0.510, 1.5250)]
ecc_fe_band = [(0.583, 1.5260, 1.5150), (0.720, 1.5290, 1.5160), (0.854, 1.5330, 1.5170),
               (1.000, 1.5350, 1.5180), (1.124, 1.5380, 1.5189), (1.400, 1.5390, 1.5185),
               (1.666, 1.5401, 1.5189), (2.000, 1.5395, 1.5195), (2.397, 1.5401, 1.5200)]

ecc_gf = [(-3.705, 1.3524), (-3.299, 1.3367), (-3.118, 1.3513), (-2.892, 1.3367), (-2.667, 1.3430),
          (-2.486, 1.3314), (-2.396, 1.3445), (-2.305, 1.3314), (-2.215, 1.3498), (-2.125, 1.3325),
          (-2.035, 1.3471), (-1.944, 1.3262), (-1.854, 1.3524), (-1.764, 1.3341), (-1.673, 1.3445),
          (-1.583, 1.3288), (-1.538, 1.3184), (-1.493, 1.3471), (-1.448, 1.3314), (-1.403, 1.3550),
          (-1.312, 1.3367), (-1.222, 1.3471), (-1.132, 1.3314), (-1.042, 1.3498), (-0.951, 1.3367),
          (-0.861, 1.3524), (-0.771, 1.3314), (-0.680, 1.3471), (-0.590, 1.3419), (-0.500, 1.3513),
          (-0.410, 1.3367), (-0.319, 1.3471), (-0.229, 1.3498), (-0.139, 1.3314), (-0.049, 1.3445),
          (0.042, 1.3524), (0.132, 1.3445), (0.222, 1.3498), (0.313, 1.3419), (0.403, 1.3471),
          (0.493, 1.3367), (0.583, 1.3498), (0.674, 1.3430), (0.764, 1.3524), (0.854, 1.3445),
          (-2.350, 1.3400), (-2.260, 1.3470), (-2.170, 1.3380), (-2.080, 1.3440), (-1.990, 1.3340),
          (-1.900, 1.3490), (-1.810, 1.3400), (-1.720, 1.3300), (-1.630, 1.3460), (-1.540, 1.3380),
          (-1.450, 1.3500), (-1.360, 1.3420), (-1.270, 1.3350), (-1.180, 1.3480), (-1.090, 1.3400),
          (-1.000, 1.3460), (-0.910, 1.3360), (-0.820, 1.3440), (-0.730, 1.3500), (-0.640, 1.3400),
          (-0.550, 1.3470), (-0.460, 1.3410), (-0.370, 1.3480), (-0.280, 1.3420), (-0.190, 1.3470),
          (-0.100, 1.3400), (0.000, 1.3480), (0.090, 1.3420), (0.180, 1.3480), (0.270, 1.3440),
          (0.360, 1.3500), (0.450, 1.3430), (0.540, 1.3490), (0.630, 1.3450), (0.720, 1.3510),
          (0.810, 1.3460), (0.900, 1.3520)]
ecc_gf_band = [(0.944, 1.3524, 1.3367), (1.035, 1.3602, 1.3367), (1.250, 1.3595, 1.3372),
               (1.486, 1.3602, 1.3367), (1.700, 1.3598, 1.3350), (1.937, 1.3602, 1.3341),
               (2.150, 1.3600, 1.3360), (2.389, 1.3602, 1.3367)]

# ---------------------------------------------------------------- layout
points = [[long_cb, long_dc, long_ed, long_fe, long_gf],
          [short_cb, short_dc, short_ed, short_fe, short_gf],
          [ecc_cb, ecc_dc, ecc_ed, ecc_fe, ecc_gf]]
bands = [[long_cb_band, long_dc_band, long_ed_band, long_fe_band, long_gf_band],
         [short_cb_band, short_dc_band, short_ed_band, short_fe_band, short_gf_band],
         [ecc_cb_band, ecc_dc_band, ecc_ed_band, ecc_fe_band, ecc_gf_band]]
time_limits = [long_time_limits, short_time_limits, short_time_limits]
time_ticks = [long_time_ticks, short_time_ticks, short_time_ticks]

W, H = 1230, 732
col_px = [(117, 345), (534, 761), (950, 1177)]
row_px = [(42, 137), (154, 268), (286, 402), (420, 533), (550, 667)]
orange = '#ff7f00'
fs = 15

fig = plt.figure(figsize=(W / 100, H / 100), dpi=100)

for c in range(3):
    x0, x1 = col_px[c]
    fig.text((x0 + x1) / 2 / W, 1 - 23 / H, titles[c], ha='center', va='center', fontsize=19.5)
    for r in range(5):
        y0, y1 = row_px[r]
        ax = fig.add_axes([x0 / W, 1 - y1 / H, (x1 - x0) / W, (y1 - y0) / H])

        pts = np.array(points[c][r])
        ax.scatter(10 ** pts[:, 0], pts[:, 1], s=3.2, marker='s', c='k', linewidths=0, zorder=2)
        band = np.array(bands[c][r])
        ax.fill_between(10 ** band[:, 0], band[:, 2], band[:, 1], color='k', lw=0, zorder=2)
        ax.axhline(observed[r], color=orange, lw=3, zorder=3)

        ax.set_xscale('log')
        ax.set_xlim(*time_limits[c])
        labels = []
        for i, lab in enumerate(time_ticks[c]):
            labels.append(lab)
            if i < len(time_ticks[c]) - 1:
                labels.append('')
        ax.set_xticks(np.geomspace(time_limits[c][0], time_limits[c][1], len(labels)))
        ax.minorticks_off()
        if r == 4:
            ax.set_xticklabels(labels)
            ax.set_xlabel('Time (kyr)', fontsize=fs, labelpad=3)
        else:
            ax.set_xticklabels([])

        ax.set_ylim(*y_limits[r])
        ax.set_yticks(np.linspace(y_limits[r][0], y_limits[r][1], 4))
        ax.set_yticklabels(y_ticklabels[r])
        ylabs = ax.get_yticklabels()
        ylabs[0].set_va('bottom')
        ylabs[-1].set_va('top')
        ax.set_ylabel(ratio_names[r], fontsize=fs)
        ax.yaxis.set_label_coords(-0.335, 0.5)

        ax.tick_params(axis='both', direction='in', top=True, right=True,
                       labelsize=fs, width=1.6, colors='k')
        ax.tick_params(axis='y', length=8, pad=5)
        ax.tick_params(axis='x', length=3.5, pad=7)
        for sp in ax.spines.values():
            sp.set_linewidth(1.8)

fig.savefig('out.png', dpi=100)
